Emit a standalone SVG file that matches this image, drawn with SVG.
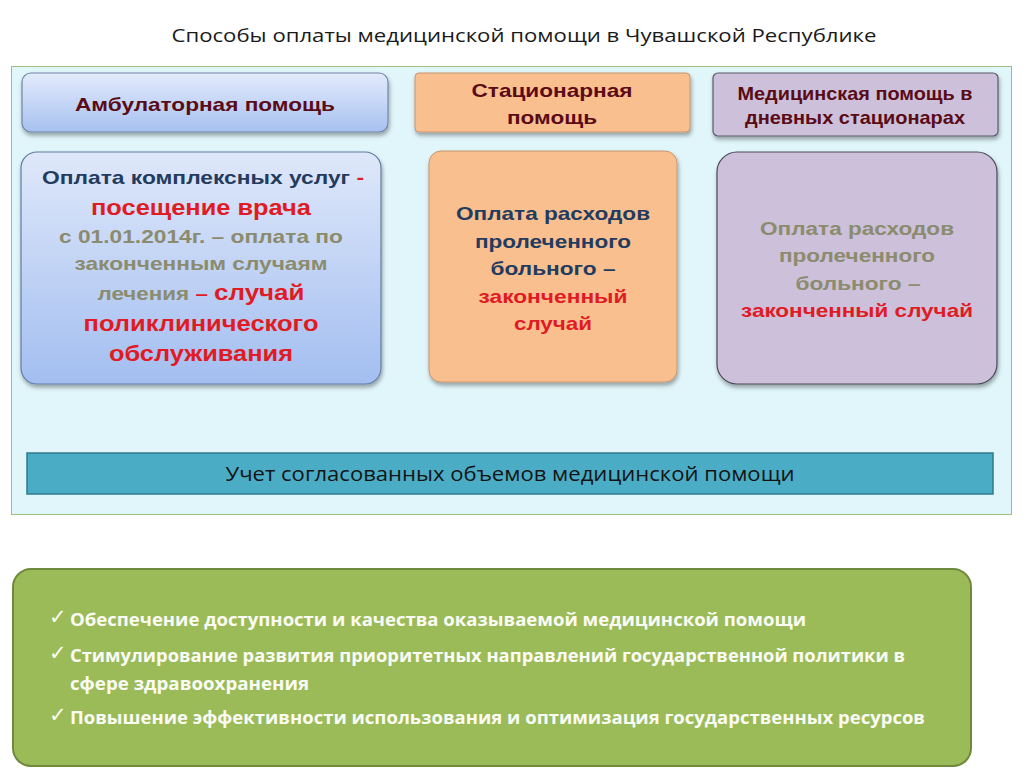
<svg xmlns="http://www.w3.org/2000/svg" width="1024" height="768" viewBox="0 0 1024 768">
<defs>
<linearGradient id="gBlue" x1="0" y1="0" x2="0" y2="1">
<stop offset="0" stop-color="#e3ebfb"/><stop offset="1" stop-color="#a7c1f0"/>
</linearGradient>
<linearGradient id="gBlue2" x1="0" y1="0" x2="0" y2="1">
<stop offset="0" stop-color="#dfe8fa"/><stop offset="1" stop-color="#a3bef0"/>
</linearGradient>
<filter id="sh" x="-10%" y="-10%" width="120%" height="130%">
<feDropShadow dx="1" dy="3" stdDeviation="2" flood-color="#000" flood-opacity="0.35"/>
</filter>
</defs>
<style>
.b{font-family:"Liberation Sans",Arial,sans-serif;font-weight:bold;text-anchor:middle}
.hd{fill:#5a0b16;font-size:19px}
.nv{fill:#233b5e}
.gr{fill:#8b8b6d}
.rd{fill:#e01b24}
.cal{font-family:"Open Sans","Liberation Sans",sans-serif}
.w{fill:#fbfbf5;font-weight:bold;font-size:17px}
.ck{font-family:"DejaVu Sans",sans-serif;font-size:21px;fill:#fbfbf5}
</style>
<rect width="1024" height="768" fill="#ffffff"/>
<text x="524" y="42" class="cal" font-size="19" fill="#1a1a1a" text-anchor="middle" textLength="705" lengthAdjust="spacingAndGlyphs">Способы оплаты медицинской помощи в Чувашской Республике</text>

<g id="panel">
<rect x="11.5" y="66.5" width="1000" height="448" fill="#e1f6fb" stroke="#9fbf7f" stroke-width="1"/>
</g>

<g id="amb-head">
<rect x="22" y="73" width="366" height="59" rx="9" fill="url(#gBlue)" stroke="#6f86a6" stroke-width="1.2" filter="url(#sh)"/>
<text x="205" y="111" class="b hd" textLength="260" lengthAdjust="spacingAndGlyphs">Амбулаторная помощь</text>
</g>
<g id="stat-head">
<rect x="415" y="73" width="275" height="59" rx="4" fill="#f9bf8f" stroke="#c89570" stroke-width="1" filter="url(#sh)"/>
<text x="552" y="97" class="b hd" textLength="161" lengthAdjust="spacingAndGlyphs">Стационарная</text>
<text x="552" y="124" class="b hd" textLength="90" lengthAdjust="spacingAndGlyphs">помощь</text>
</g>
<g id="day-head">
<rect x="713" y="73" width="285" height="63" rx="5" fill="#ccc0da" stroke="#5a5a66" stroke-width="1.2" filter="url(#sh)"/>
<text x="855" y="100" class="b hd" font-size="18" textLength="235" lengthAdjust="spacingAndGlyphs">Медицинская помощь в</text>
<text x="855" y="124" class="b hd" font-size="18" textLength="220" lengthAdjust="spacingAndGlyphs">дневных стационарах</text>
</g>

<g id="amb-body">
<rect x="21" y="152" width="360" height="232" rx="16" fill="url(#gBlue2)" stroke="#5f7fa3" stroke-width="1.2" filter="url(#sh)"/>
<text x="203" y="184" class="b" font-size="19" textLength="322" lengthAdjust="spacingAndGlyphs"><tspan class="nv">Оплата комплексных услуг </tspan><tspan class="rd">-</tspan></text>
<text x="201" y="215" class="b rd" font-size="22" textLength="220" lengthAdjust="spacingAndGlyphs">посещение врача</text>
<text x="201" y="243" class="b gr" font-size="19" textLength="284" lengthAdjust="spacingAndGlyphs">с 01.01.2014г. – оплата по</text>
<text x="201" y="270" class="b gr" font-size="19" textLength="253" lengthAdjust="spacingAndGlyphs">законченным случаям</text>
<text x="201" y="300" class="b" font-size="19" textLength="207" lengthAdjust="spacingAndGlyphs"><tspan class="gr">лечения </tspan><tspan class="rd">– </tspan><tspan class="rd" font-size="22">случай</tspan></text>
<text x="201" y="331" class="b rd" font-size="22" textLength="235" lengthAdjust="spacingAndGlyphs">поликлинического</text>
<text x="201" y="361" class="b rd" font-size="22" textLength="184" lengthAdjust="spacingAndGlyphs">обслуживания</text>
</g>

<g id="stat-body">
<rect x="429" y="151" width="248" height="231" rx="12" fill="#f9bf8f" stroke="#c89570" stroke-width="1" filter="url(#sh)"/>
<text x="553" y="220" class="b nv" font-size="19" textLength="194" lengthAdjust="spacingAndGlyphs">Оплата расходов</text>
<text x="553" y="248" class="b nv" font-size="19" textLength="156" lengthAdjust="spacingAndGlyphs">пролеченного</text>
<text x="553" y="275" class="b nv" font-size="19" textLength="125" lengthAdjust="spacingAndGlyphs">больного –</text>
<text x="553" y="303" class="b rd" font-size="19" textLength="149" lengthAdjust="spacingAndGlyphs">законченный</text>
<text x="553" y="330" class="b rd" font-size="19" textLength="78" lengthAdjust="spacingAndGlyphs">случай</text>
</g>

<g id="day-body">
<rect x="717" y="152" width="280" height="232" rx="20" fill="#ccc0da" stroke="#4a4a52" stroke-width="1.2" filter="url(#sh)"/>
<text x="857" y="235" class="b gr" font-size="19" textLength="194" lengthAdjust="spacingAndGlyphs">Оплата расходов</text>
<text x="857" y="262" class="b gr" font-size="19" textLength="156" lengthAdjust="spacingAndGlyphs">пролеченного</text>
<text x="858" y="290" class="b gr" font-size="19" textLength="125" lengthAdjust="spacingAndGlyphs">больного –</text>
<text x="857" y="317" class="b rd" font-size="19" textLength="232" lengthAdjust="spacingAndGlyphs">законченный случай</text>
</g>

<g id="volume-bar">
<rect x="27" y="453" width="966" height="41" fill="#4bacc6" stroke="#2f7a8d" stroke-width="1.5"/>
<text x="510" y="481" class="cal" font-size="20" fill="#141414" text-anchor="middle" textLength="569" lengthAdjust="spacingAndGlyphs">Учет согласованных объемов медицинской помощи</text>
</g>

<g id="goals">
<rect x="13" y="569" width="958" height="197" rx="18" fill="#9bbb59" stroke="#6f8a3c" stroke-width="2"/>
<text x="49" y="624" class="ck">✓</text>
<text x="70" y="626" class="cal w" textLength="736" lengthAdjust="spacingAndGlyphs">Обеспечение доступности и качества оказываемой медицинской помощи</text>
<text x="49" y="660" class="ck">✓</text>
<text x="70" y="662" class="cal w" textLength="835" lengthAdjust="spacingAndGlyphs">Стимулирование развития приоритетных направлений государственной политики в</text>
<text x="70" y="690" class="cal w" textLength="239" lengthAdjust="spacingAndGlyphs">сфере здравоохранения</text>
<text x="49" y="722" class="ck">✓</text>
<text x="70" y="724" class="cal w" textLength="855" lengthAdjust="spacingAndGlyphs">Повышение эффективности использования и оптимизация государственных ресурсов</text>
</g>
</svg>
